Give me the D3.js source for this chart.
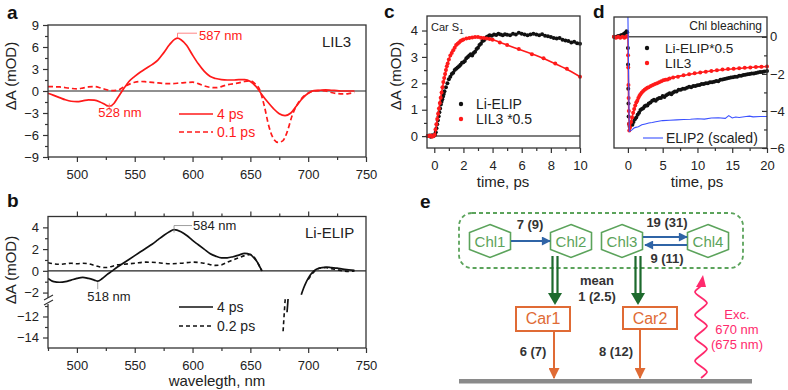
<html>
<head>
<meta charset="UTF-8" />
<script src="https://d3js.org/d3.v7.min.js"></script>
<style>
  body { margin: 0; background: #fff; }
  svg text { font-family: Arial, "Liberation Sans", sans-serif; }
  .axis line { stroke: #333; stroke-width: 1.2; }
  .axis path { stroke: none; }
  .axis text { font-size: 13px; fill: #222; }
  .frame { fill: none; stroke: #333; stroke-width: 1.3; }
</style>
</head>
<body>
<svg id="fig" width="788" height="390"></svg>
<script>
// ---------- data ----------
// panel a: LIL3 spectra [wavelength nm, dA mOD]
const lil3_4ps = [[475,-0.3],[480,-0.6],[485,-0.9],[490,-1.2],[495,-1.4],[500,-1.45],[505,-1.35],[510,-1.2],[515,-1.25],[520,-1.5],[525,-1.9],[528,-2.1],[532,-1.7],[535,-1.0],[540,0.2],[545,1.3],[550,2.0],[555,2.6],[560,3.1],[565,3.6],[570,4.2],[575,5.2],[580,6.3],[585,7.1],[587,7.2],[590,7.0],[595,6.2],[600,4.9],[605,3.7],[610,2.7],[615,2.0],[620,1.7],[625,1.55],[630,1.5],[635,1.5],[640,1.55],[645,1.55],[650,1.3],[655,0.6],[660,-0.5],[665,-1.5],[670,-2.4],[675,-3.1],[680,-3.35],[685,-3.0],[690,-2.0],[695,-1.0],[700,-0.3],[705,0.05],[710,0.1],[715,0.15],[720,0.1],[725,0.05],[730,0],[735,0],[740,0]];
const lil3_01ps = [[475,0.6],[485,0.55],[495,0.35],[500,0.3],[505,0.4],[510,0.55],[515,0.6],[520,0.45],[525,0.2],[530,0.05],[535,0.1],[540,0.5],[545,0.9],[550,1.2],[555,1.3],[560,1.25],[570,1.1],[580,1.0],[590,1.1],[600,1.2],[605,1.0],[610,0.7],[615,0.5],[620,0.45],[625,0.6],[630,0.85],[640,1.1],[645,1.3],[650,1.4],[654,1.0],[658,0.2],[662,-2.0],[666,-4.8],[670,-6.5],[674,-7.0],[678,-6.8],[682,-5.5],[686,-3.4],[690,-2.0],[695,-0.9],[700,-0.3],[705,0.0],[710,0.05],[715,0.0],[720,-0.2],[725,-0.35],[730,-0.4],[735,-0.35],[740,-0.2]];

// panel b: Li-ELIP spectra, split around the masked excitation region
const elip_4ps_a = [[475,-0.7],[480,-1.0],[485,-1.05],[490,-1.0],[495,-0.85],[500,-0.7],[505,-0.6],[510,-0.7],[515,-0.85],[518,-0.95],[522,-0.7],[526,-0.35],[530,-0.05],[535,0.35],[540,0.7],[545,1.05],[550,1.4],[555,1.75],[560,2.1],[565,2.45],[570,2.85],[575,3.25],[580,3.6],[584,3.8],[590,3.6],[595,3.25],[600,2.8],[605,2.4],[610,2.0],[615,1.6],[620,1.35],[625,1.2],[630,1.2],[635,1.3],[640,1.45],[645,1.6],[650,1.5],[653,1.2],[656,0.8],[658,0.4],[660,0.0]];
const elip_4ps_b = [[681.7,-11.6],[682.2,-10],[682.6,-3.5]];
const elip_4ps_c = [[694,-2.2],[696,-1.6],[698,-1.1],[700,-0.7],[702,-0.35],[705,0.0],[708,0.2],[712,0.3],[716,0.35],[720,0.3],[725,0.25],[730,0.15],[735,0.1],[740,0.05]];
const elip_02ps_a = [[475,0.75],[480,0.65],[485,0.6],[490,0.65],[495,0.7],[500,0.65],[505,0.7],[510,0.65],[515,0.5],[520,0.35],[525,0.3],[530,0.4],[535,0.55],[540,0.6],[550,0.7],[560,0.8],[570,0.75],[580,0.65],[590,0.7],[600,0.8],[610,0.7],[620,0.5],[625,0.55],[630,0.8],[635,1.0],[640,1.2],[645,1.4],[650,1.5],[653,1.3],[656,0.8],[660,0.0]];
const elip_02ps_b = [[678.3,-13.4],[679,-12.2],[679.6,-11.2],[680,-6],[680.4,-3]];
const elip_02ps_c = [[700,-0.8],[705,-0.1],[710,0.25],[715,0.3],[720,0.2],[725,0.1],[730,0.0],[735,-0.05],[740,0.0]];

// panel c: Car S1 kinetics [time ps, dA mOD]
const carElip = [[-0.45,0],[-0.35,0.02],[-0.25,-0.02],[-0.15,0.03],[-0.05,0],[0.05,0.05],[0.1,0.15],[0.15,0.3],[0.2,0.45],[0.25,0.6],[0.3,0.75],[0.35,0.9],[0.4,1.05],[0.45,1.2],[0.5,1.3],[0.55,1.4],[0.6,1.5],[0.65,1.6],[0.7,1.7],[0.8,1.85],[0.9,2.0],[1.0,2.15],[1.1,2.25],[1.2,2.35],[1.3,2.4],[1.4,2.5],[1.5,2.55],[1.6,2.6],[1.7,2.65],[1.8,2.7],[1.9,2.78],[2.0,2.8],[2.1,2.85],[2.2,2.95],[2.3,3.0],[2.4,3.05],[2.5,3.1],[2.6,3.05],[2.7,3.15],[2.8,3.2],[2.9,3.3],[3.0,3.35],[3.1,3.45],[3.2,3.5],[3.3,3.6],[3.4,3.62],[3.5,3.7],[3.6,3.75],[3.7,3.78],[3.8,3.82],[3.95,3.8],[4.1,3.85],[4.25,3.83],[4.4,3.88],[4.55,3.85],[4.7,3.82],[4.85,3.86],[5.0,3.84],[5.2,3.82],[5.4,3.88],[5.6,3.85],[5.8,3.92],[6.0,3.88],[6.2,3.85],[6.4,3.82],[6.6,3.85],[6.8,3.88],[7.0,3.85],[7.2,3.82],[7.4,3.86],[7.6,3.8],[7.8,3.78],[8.0,3.75],[8.2,3.72],[8.4,3.7],[8.6,3.72],[8.8,3.65],[9.0,3.62],[9.2,3.6],[9.4,3.55],[9.6,3.57],[9.8,3.52],[10.0,3.5]];
const carLil3 = [[-0.45,0],[-0.35,0],[-0.25,0.02],[-0.15,-0.02],[-0.05,0],[0.02,0.05],[0.08,0.25],[0.14,0.45],[0.2,0.65],[0.26,0.85],[0.32,1.05],[0.38,1.25],[0.44,1.45],[0.5,1.65],[0.56,1.85],[0.62,2.05],[0.68,2.2],[0.74,2.35],[0.8,2.5],[0.86,2.65],[0.92,2.75],[1.0,2.9],[1.1,3.05],[1.2,3.15],[1.3,3.25],[1.4,3.35],[1.5,3.45],[1.6,3.5],[1.7,3.55],[1.8,3.6],[1.9,3.63],[2.0,3.66],[2.2,3.7],[2.4,3.72],[2.6,3.74],[2.8,3.75],[3.0,3.75],[3.2,3.73],[3.4,3.72],[3.6,3.7],[3.8,3.68],[4.0,3.65],[4.5,3.55],[5.0,3.45],[5.8,3.3],[6.7,3.1],[7.5,2.95],[8.3,2.75],[9.1,2.55],[10.0,2.25]];
const carLil3Fit = [[-0.5,0],[0,0],[0.25,0.8],[0.5,1.65],[0.75,2.35],[1.0,2.9],[1.5,3.45],[2.0,3.66],[2.5,3.74],[3.0,3.75],[3.5,3.71],[4,3.65],[5,3.45],[6,3.25],[7,3.05],[8,2.82],[9,2.56],[10,2.25]];

// panel d: Chl bleaching kinetics
const chlElip = [[-2.0,0],[-1.8,-0.02],[-1.6,0],[-1.4,0.05],[-1.2,0.02],[-1.0,0.08],[-0.8,0.1],[-0.6,0.15],[-0.4,0.2],[-0.2,0.3],[-0.1,0.25],[0.0,-0.6],[0.02,-1.5],[0.05,-2.8],[0.08,-3.6],[0.1,-4.3],[0.15,-4.7],[0.25,-4.85],[0.35,-4.8],[0.5,-4.7],[0.65,-4.75],[0.8,-4.6],[1.0,-4.45],[1.2,-4.35],[1.4,-4.2],[1.6,-4.1],[1.8,-3.95],[2.0,-3.9],[2.2,-3.85],[2.4,-3.75],[2.6,-3.7],[2.8,-3.7],[3.0,-3.6],[3.25,-3.55],[3.5,-3.45],[3.75,-3.4],[4.0,-3.45],[4.25,-3.35],[4.5,-3.3],[4.75,-3.3],[5.0,-3.2],[5.25,-3.25],[5.5,-3.15],[5.75,-3.1],[6.0,-3.05],[6.25,-3.1],[6.5,-3.0],[6.75,-2.95],[7.0,-2.95],[7.3,-2.85],[7.6,-2.85],[7.9,-2.8],[8.2,-2.8],[8.5,-2.75],[8.8,-2.7],[9.1,-2.72],[9.4,-2.65],[9.7,-2.65],[10.0,-2.62],[10.3,-2.6],[10.6,-2.55],[10.9,-2.55],[11.2,-2.5],[11.5,-2.5],[11.8,-2.45],[12.1,-2.45],[12.4,-2.42],[12.7,-2.38],[13.0,-2.4],[13.3,-2.32],[13.6,-2.3],[13.9,-2.28],[14.2,-2.25],[14.5,-2.22],[14.8,-2.2],[15.1,-2.18],[15.4,-2.15],[15.7,-2.15],[16.0,-2.1],[16.3,-2.1],[16.6,-2.06],[16.9,-2.05],[17.2,-2.02],[17.5,-2.0],[17.8,-1.98],[18.1,-1.98],[18.4,-1.95],[18.7,-1.92],[19.0,-1.9],[19.3,-1.9],[19.6,-1.87],[20.0,-1.85]];
const chlLil3 = [[-2.0,0],[-1.7,-0.05],[-1.4,0],[-1.1,-0.05],[-0.8,0],[-0.5,-0.05],[-0.25,0],[-0.1,0.05],[0.02,-1.0],[0.05,-1.65],[0.08,-2.6],[0.1,-3.3],[0.13,-4.0],[0.16,-4.7],[0.2,-5.05],[0.3,-4.9],[0.45,-4.6],[0.6,-4.35],[0.75,-4.1],[0.9,-3.9],[1.05,-3.7],[1.2,-3.55],[1.35,-3.45],[1.5,-3.3],[1.65,-3.2],[1.8,-3.1],[2.0,-3.0],[2.2,-2.92],[2.4,-2.85],[2.6,-2.8],[2.8,-2.75],[3.0,-2.72],[3.3,-2.65],[3.6,-2.6],[3.9,-2.55],[4.2,-2.5],[4.5,-2.45],[4.8,-2.4],[5.1,-2.35],[5.4,-2.32],[5.7,-2.3],[6.0,-2.25],[6.5,-2.2],[7.2,-2.15],[8.0,-2.08],[8.8,-2.02],[9.6,-1.97],[10.4,-1.92],[11.2,-1.88],[12.0,-1.84],[12.8,-1.8],[13.6,-1.77],[14.4,-1.74],[15.2,-1.72],[16.0,-1.7],[16.8,-1.67],[17.6,-1.65],[18.4,-1.63],[19.2,-1.61],[20.0,-1.6]];
const chlLil3Fit = [[-2,0],[0,0],[0.1,-3.5],[0.2,-5.05],[0.5,-4.5],[1,-3.8],[1.5,-3.3],[2,-3.0],[3,-2.72],[4,-2.53],[5,-2.37],[6,-2.25],[8,-2.08],[10,-1.95],[12,-1.84],[14,-1.76],[16,-1.7],[18,-1.64],[20,-1.6]];
const chlElip2 = [[0,1.2],[0.2,-5.1],[0.5,-5.05],[0.8,-4.95],[1.0,-4.9],[1.5,-4.85],[2.0,-4.75],[2.5,-4.7],[3,-4.65],[3.5,-4.62],[4,-4.58],[5,-4.52],[6,-4.5],[7,-4.48],[8,-4.46],[9,-4.45],[10,-4.42],[11,-4.44],[12,-4.38],[13,-4.37],[14,-4.4],[14.5,-4.25],[15,-4.38],[15.5,-4.33],[16,-4.35],[17,-4.3],[17.5,-4.28],[18,-4.32],[19,-4.3],[20,-4.3]];

// tick values
const wlTicks = [500, 550, 600, 650, 700, 750];
const wlMinor = [475, 525, 575, 625, 675, 725];
const aTicks = [-9, -6, -3, 0, 3, 6, 9];
const aMinor = [-7.5, -4.5, -1.5, 1.5, 4.5, 7.5];
const bTicks = [4, 2, 0, -2, -12, -14];
const bMinor = [3, 1, -1, -11, -13];
const cTicksX = [0, 2, 4, 6, 8, 10];
const cMinorX = [1, 3, 5, 7, 9];
const cTicksY = [0, 1, 2, 3, 4];
const cMinorY = [0.5, 1.5, 2.5, 3.5];
const dTicksX = [0, 5, 10, 15, 20];
const dMinorX = [2.5, 7.5, 12.5, 17.5];
const dTicksY = [0, -2, -4, -6];
const dMinorY = [-1, -3, -5];

// ---------- drawing ----------
const svg = d3.select('svg#fig');
const RED = '#ff1a1a', BLK = '#111';

function addAxis(maker, scale, tx, ty, major, minor, labels, inward) {
  const s = inward ? -1 : 1;
  const g = svg.append('g').attr('class', 'axis').attr('transform', 'translate(' + tx + ',' + ty + ')');
  g.append('g').call(maker(scale).tickValues(major).tickSize(5 * s).tickPadding(inward ? 3 : 4)
    .tickFormat(labels ? d3.format('') : ''));
  g.append('g').call(maker(scale).tickValues(minor).tickSize(3 * s).tickFormat(''));
  return g;
}
function frame(x, y) {
  svg.append('rect').attr('class', 'frame')
    .attr('x', x.range()[0]).attr('y', d3.min(y.range()))
    .attr('width', x.range()[1] - x.range()[0])
    .attr('height', d3.max(y.range()) - d3.min(y.range()));
}
function zeroLine(x, y, col, w) {
  svg.append('line').attr('x1', x.range()[0]).attr('x2', x.range()[1])
    .attr('y1', y(0)).attr('y2', y(0)).attr('stroke', col).attr('stroke-width', w);
}
function curve(data, x, y, col, dash, w, clip) {
  const gen = d3.line().x(d => x(d[0])).y(d => y(d[1])).curve(d3.curveMonotoneX);
  svg.append('path').attr('d', gen(data)).attr('fill', 'none').attr('stroke', col)
    .attr('stroke-width', w || 1.6).attr('stroke-dasharray', dash || null)
    .attr('clip-path', clip ? 'url(#' + clip + ')' : null);
}
function dots(data, x, y, col) {
  svg.append('g').selectAll('circle').data(data).join('circle')
    .attr('cx', d => x(d[0])).attr('cy', d => y(d[1])).attr('r', 2).attr('fill', col);
}
function text(str, x, y, o) {
  o = o || {};
  const t = svg.append('text').attr('x', x).attr('y', y).text(str)
    .attr('font-size', o.size || 13).attr('fill', o.fill || '#222')
    .attr('text-anchor', o.anchor || 'start').attr('font-weight', o.weight || null);
  if (o.rotate) t.attr('transform', 'rotate(-90,' + x + ',' + y + ')');
  return t;
}
function clipRect(id, x, y) {
  svg.append('clipPath').attr('id', id).append('rect')
    .attr('x', x.range()[0]).attr('y', d3.min(y.range()))
    .attr('width', x.range()[1] - x.range()[0]).attr('height', d3.max(y.range()) - d3.min(y.range()));
}

// panel a
const xA = d3.scaleLinear().domain([475, 750]).range([48, 366]);
const yA = d3.scaleLinear().domain([-9, 9]).range([157, 25]);
zeroLine(xA, yA, '#222', 1.2);
curve(lil3_4ps, xA, yA, RED, null, 1.7);
curve(lil3_01ps, xA, yA, RED, '5,3', 1.7);
frame(xA, yA);
addAxis(d3.axisLeft, yA, 48, 0, aTicks, aMinor, true);
addAxis(d3.axisBottom, xA, 0, 157, wlTicks, wlMinor, true).selectAll('text').attr('dy', '1.0em');
svg.append('path').attr('d', 'M' + xA(587) + ',' + (yA(7.2) - 1) + 'V' + (yA(7.2) - 5) + 'H197')
  .attr('fill', 'none').attr('stroke', '#f66').attr('stroke-width', 0.8);
svg.append('path').attr('d', 'M' + xA(528) + ',' + (yA(-2.1) - 3) + 'V' + (yA(-2.1) + 4) + 'M' + (xA(528) - 3) + ',' + yA(-2.1) + 'H' + (xA(528) + 3))
  .attr('fill', 'none').attr('stroke', '#f66').attr('stroke-width', 0.8);
text('587 nm', 199, 40, { fill: RED, size: 13 });
text('528 nm', 120, 117, { fill: RED, size: 13, anchor: 'middle' });
text('LIL3', 322, 47, { size: 15 });
svg.append('line').attr('x1', 179).attr('x2', 213).attr('y1', 114).attr('y2', 114).attr('stroke', RED).attr('stroke-width', 1.7);
svg.append('line').attr('x1', 179).attr('x2', 213).attr('y1', 132).attr('y2', 132).attr('stroke', RED).attr('stroke-width', 1.7).attr('stroke-dasharray', '5,3');
text('4 ps', 217, 119, { fill: RED, size: 14 });
text('0.1 ps', 217, 137, { fill: RED, size: 14 });
text('\u0394A (mOD)', 16, 76, { size: 15, anchor: 'middle', rotate: true });
text('a', 7, 19, { size: 19, weight: 'bold', fill: '#111' });

// panel b (broken y axis)
const xB = d3.scaleLinear().domain([475, 750]).range([48, 366]);
const yB = d3.scaleLinear().domain([-15, -11, -2.5, 5]).range([348, 306, 298, 216.5]);
clipRect('clipB', xB, yB);
zeroLine(xB, yB, '#222', 1.2);
[elip_4ps_a, elip_4ps_b, elip_4ps_c].forEach(s => curve(s, xB, yB, BLK, null, 1.7, 'clipB'));
[elip_02ps_a, elip_02ps_b, elip_02ps_c].forEach(s => curve(s, xB, yB, BLK, '4,3', 1.6, 'clipB'));
frame(xB, yB);
addAxis(d3.axisLeft, yB, 48, 0, bTicks, bMinor, true);
addAxis(d3.axisBottom, xB, 0, 348, wlTicks, wlMinor, true).selectAll('text').attr('dy', '1.0em');
addAxis(d3.axisTop, xB, 0, 216.5, wlTicks.slice(0, 5), wlMinor.slice(1), false);
// break marks on the y axis
svg.append('rect').attr('x', 44).attr('y', 298).attr('width', 9).attr('height', 6).attr('fill', '#fff');
svg.append('path').attr('d', 'M44,300L53,295M44,305L53,300').attr('stroke', '#333').attr('stroke-width', 1.1);
svg.append('path').attr('d', 'M' + xB(584) + ',' + (yB(3.8) + 3) + 'V' + (yB(3.8) - 4) + 'H192')
  .attr('fill', 'none').attr('stroke', '#888').attr('stroke-width', 0.8);
svg.append('line').attr('x1', xB(518)).attr('x2', xB(518)).attr('y1', yB(-0.95) + 1).attr('y2', yB(-0.95) + 8)
  .attr('stroke', '#888').attr('stroke-width', 0.8);
text('584 nm', 193, 230, { size: 13 });
text('518 nm', 109, 301, { size: 13, anchor: 'middle' });
text('Li-ELIP', 305, 238, { size: 15 });
svg.append('line').attr('x1', 179).attr('x2', 213).attr('y1', 307).attr('y2', 307).attr('stroke', BLK).attr('stroke-width', 1.7);
svg.append('line').attr('x1', 179).attr('x2', 213).attr('y1', 326).attr('y2', 326).attr('stroke', BLK).attr('stroke-width', 1.6).attr('stroke-dasharray', '4,3');
text('4 ps', 217, 312, { size: 14 });
text('0.2 ps', 217, 331, { size: 14 });
text('wavelegth, nm', 217, 386, { size: 15, anchor: 'middle' });
text('\u0394A (mOD)', 16, 270, { size: 15, anchor: 'middle', rotate: true });
text('b', 7, 207, { size: 19, weight: 'bold', fill: '#111' });

// panel c
const xC = d3.scaleLinear().domain([-0.5, 10]).range([427, 580]);
const yC = d3.scaleLinear().domain([-0.45, 4.55]).range([148, 16]);
zeroLine(xC, yC, '#555', 1.5);
dots(carElip, xC, yC, BLK);
curve(carLil3Fit, xC, yC, RED, null, 1.6);
dots(carLil3, xC, yC, RED);
frame(xC, yC);
addAxis(d3.axisLeft, yC, 427, 0, cTicksY, cMinorY, true);
addAxis(d3.axisBottom, xC, 0, 148, cTicksX, cMinorX, true).selectAll('text').attr('dy', '1.0em');
const cs = text('Car S', 431, 31, { size: 11 });
cs.append('tspan').text('1').attr('font-size', 8).attr('dy', 3);
svg.append('circle').attr('cx', 461).attr('cy', 104).attr('r', 2.2).attr('fill', BLK);
svg.append('circle').attr('cx', 461).attr('cy', 119).attr('r', 2.2).attr('fill', RED);
text('Li-ELIP', 476, 109, { size: 14 });
text('LIL3 *0.5', 476, 124, { size: 14 });
text('time, ps', 503, 187, { size: 15, anchor: 'middle' });
text('\u0394A (mOD)', 401, 76, { size: 15, anchor: 'middle', rotate: true });
text('c', 384, 18, { size: 19, weight: 'bold', fill: '#111' });

// panel d
const xD = d3.scaleLinear().domain([-2, 20]).range([614, 767]);
const yD = d3.scaleLinear().domain([-6, 1.07]).range([148, 17]);
clipRect('clipD', xD, yD);
zeroLine(xD, yD, '#555', 1.5);
dots(chlElip, xD, yD, BLK);
curve(chlLil3Fit, xD, yD, RED, null, 1.6, 'clipD');
dots(chlLil3, xD, yD, RED);
svg.append('path').attr('d', d3.line().x(d => xD(d[0])).y(d => yD(d[1]))(chlElip2))
  .attr('fill', 'none').attr('stroke', '#3a50ff').attr('stroke-width', 1.1).attr('clip-path', 'url(#clipD)');
frame(xD, yD);
addAxis(d3.axisRight, yD, 767, 0, dTicksY, dMinorY, true, true);
addAxis(d3.axisBottom, xD, 0, 148, dTicksX, dMinorX, true).selectAll('text').attr('dy', '1.0em');
text('Chl  bleaching', 762, 30, { size: 12, anchor: 'end' });
svg.append('circle').attr('cx', 647).attr('cy', 48).attr('r', 2.2).attr('fill', BLK);
svg.append('circle').attr('cx', 647).attr('cy', 63).attr('r', 2.2).attr('fill', RED);
svg.append('line').attr('x1', 643).attr('x2', 663).attr('y1', 138).attr('y2', 138).attr('stroke', '#3a50ff').attr('stroke-width', 1.1);
text('Li-ELIP*0.5', 665, 53, { size: 13.5 });
text('LIL3', 665, 68, { size: 13.5 });
text('ELIP2 (scaled)', 666, 143, { size: 14 });
text('time, ps', 697, 187, { size: 15, anchor: 'middle' });
text('d', 593, 18, { size: 19, weight: 'bold', fill: '#111' });

// panel e: kinetic scheme
const GREEN = '#5ba35b', DKGREEN = '#1d6a2d', BLUE = '#2f64a6', ORANGE = '#e06b35', PINK = '#ff2a6d';
const hexes = [['Chl1', 490], ['Chl2', 571], ['Chl3', 622], ['Chl4', 708]];
const defs = svg.append('defs');
function head(id, col, w, h) {
  defs.append('marker').attr('id', id).attr('viewBox', '0 0 10 10').attr('refX', 9).attr('refY', 5)
    .attr('markerWidth', w).attr('markerHeight', h).attr('markerUnits', 'userSpaceOnUse').attr('orient', 'auto')
    .append('path').attr('d', 'M0,0L10,5L0,10Z').attr('fill', col);
}
head('hBlue', BLUE, 10, 9);
head('hOrange', ORANGE, 11, 11);
svg.append('rect').attr('x', 459).attr('y', 213).attr('width', 284).attr('height', 55).attr('rx', 13)
  .attr('fill', 'none').attr('stroke', GREEN).attr('stroke-width', 1.8).attr('stroke-dasharray', '4,3');
hexes.forEach(h => {
  const cx = h[1], cy = 241;
  const pts = [[0, -16.5], [20.5, -8.5], [20.5, 8.5], [0, 16.5], [-20.5, 8.5], [-20.5, -8.5]]
    .map(p => (cx + p[0]) + ',' + (cy + p[1])).join(' ');
  svg.append('polygon').attr('points', pts).attr('fill', '#fff').attr('stroke', GREEN).attr('stroke-width', 1.6);
  text(h[0], cx, cy + 6, { size: 15, fill: GREEN, anchor: 'middle' });
});
function arrow(x1, y1, x2, y2, col, mk, w) {
  svg.append('line').attr('x1', x1).attr('y1', y1).attr('x2', x2).attr('y2', y2)
    .attr('stroke', col).attr('stroke-width', w || 2).attr('marker-end', 'url(#' + mk + ')');
}
arrow(511, 241, 550, 241, BLUE, 'hBlue');
arrow(643, 237, 687, 237, BLUE, 'hBlue');
arrow(687, 245, 645, 245, BLUE, 'hBlue');
// double-line green arrows Chl -> Car
[555, 638].forEach(x => {
  svg.append('path').attr('d', 'M' + (x - 2.5) + ',256V294M' + (x + 2.5) + ',256V294')
    .attr('stroke', DKGREEN).attr('stroke-width', 2.2);
  svg.append('path').attr('d', 'M' + (x - 7) + ',293L' + (x + 7) + ',293L' + x + ',305Z').attr('fill', DKGREEN);
});
[['Car1', 516, 307, 331], ['Car2', 623, 307, 329]].forEach(c => {
  svg.append('rect').attr('x', c[1]).attr('y', c[2]).attr('width', 54).attr('height', c[3] - c[2])
    .attr('fill', '#fff').attr('stroke', ORANGE).attr('stroke-width', 2);
  text(c[0], c[1] + 27, c[2] + 17, { size: 16, fill: ORANGE, anchor: 'middle' });
});
arrow(554, 331, 554, 378, ORANGE, 'hOrange');
arrow(640, 329, 640, 378, ORANGE, 'hOrange');
svg.append('rect').attr('x', 459).attr('y', 379).attr('width', 293).attr('height', 4.5).attr('fill', '#8a8a8a');
// wavy excitation arrow
let wave = 'M701,378';
for (let i = 0; i < 4; i++) {
  const y0 = 378 - i * 23;
  wave += 'C709,' + (y0 - 6) + ' 709,' + (y0 - 6) + ' 701,' + (y0 - 11.5) + 'C693,' + (y0 - 17) + ' 693,' + (y0 - 17) + ' 701,' + (y0 - 23);
}
svg.append('path').attr('d', wave).attr('fill', 'none').attr('stroke', PINK).attr('stroke-width', 1.8);
svg.append('path').attr('d', 'M696,287L706,287L703,275Z').attr('fill', PINK);
text('Exc.', 737, 319, { size: 13, fill: PINK, anchor: 'middle' });
text('670 nm', 737, 334, { size: 13, fill: PINK, anchor: 'middle' });
text('(675 nm)', 737, 349, { size: 13, fill: PINK, anchor: 'middle' });
const B = { size: 13, weight: 'bold', fill: '#333', anchor: 'middle' };
text('7 (9)', 530, 229, B);
text('19 (31)', 667, 227, B);
text('9 (11)', 667, 263, B);
text('mean', 597, 285, B);
text('1 (2.5)', 597, 301, B);
text('6 (7)', 533, 356, B);
text('8 (12)', 616, 356, B);
text('e', 420, 208, { size: 19, weight: 'bold', fill: '#111' });
</script>
</body>
</html>
